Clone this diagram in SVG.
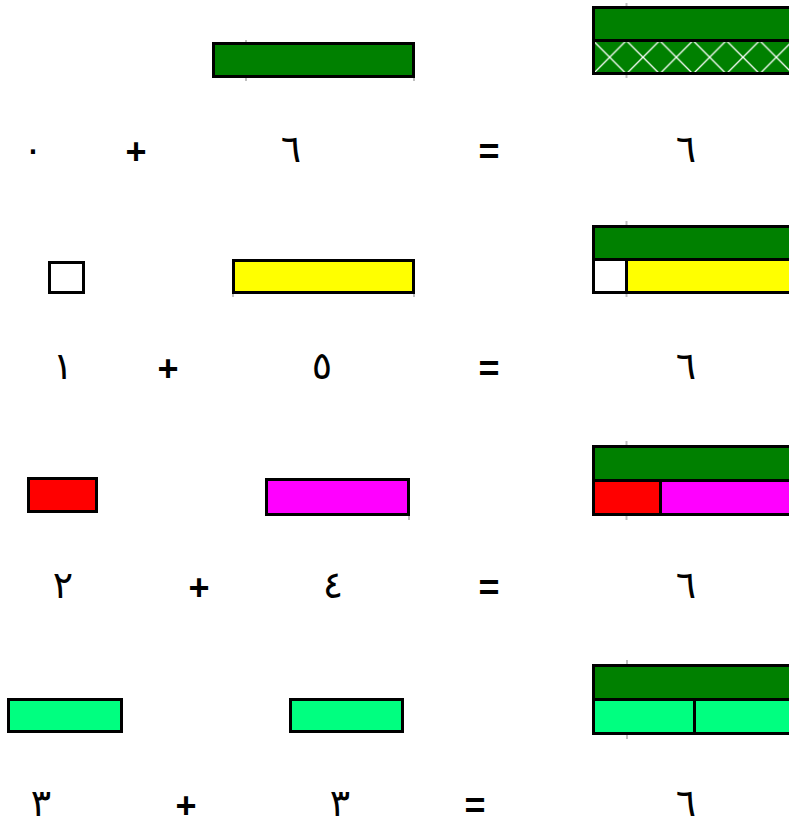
<svg xmlns="http://www.w3.org/2000/svg" width="789" height="825" viewBox="0 0 789 825">
<style>
.b{stroke:#000;stroke-width:3}
.g{fill:#008000}.y{fill:#FFFF00}.r{fill:#FF0000}.m{fill:#FF00FF}.s{fill:#00FF80}.w{fill:#FFFFFF}
.t{stroke:#C0C0C0;stroke-width:2}
.d{font-family:"Liberation Serif","DejaVu Serif","DejaVu Sans",serif;font-size:38px;text-anchor:middle;fill:#000}
.o{font-family:"Liberation Sans",Arial,sans-serif;font-weight:bold;font-size:36px;text-anchor:middle;fill:#000}
</style>
<defs>
<pattern id="hatch" patternUnits="userSpaceOnUse" x="593" y="40.5" width="33.33" height="33.5">
<rect width="33.33" height="33.5" fill="#008000"/>
<path d="M0,0 L33.33,33.5 M33.33,0 L0,33.5" stroke="#FFFFFF" stroke-width="1.3" fill="none"/>
</pattern>
</defs>
<g id="ticks">
<line class="t" x1="246" y1="40" x2="246" y2="43"/><line class="t" x1="246" y1="77" x2="246" y2="81"/><line class="t" x1="414" y1="77" x2="414" y2="81"/>
<line class="t" x1="626.5" y1="3" x2="626.5" y2="7"/><line class="t" x1="626.5" y1="74" x2="626.5" y2="78"/>
<line class="t" x1="233" y1="293" x2="233" y2="297"/><line class="t" x1="414" y1="293" x2="414" y2="297"/>
<line class="t" x1="626.5" y1="221" x2="626.5" y2="226"/><line class="t" x1="626.5" y1="293" x2="626.5" y2="297"/>
<line class="t" x1="409" y1="516" x2="409" y2="520"/>
<line class="t" x1="626.5" y1="441" x2="626.5" y2="446"/><line class="t" x1="626.5" y1="516" x2="626.5" y2="520"/>
<line class="t" x1="627" y1="660" x2="627" y2="665"/><line class="t" x1="627" y1="735" x2="627" y2="739"/>
</g>
<g id="row1">
<rect id="bar6a" class="b g" x="213.5" y="43.5" width="200" height="33"/>
<g id="sum1">
<rect class="b g" x="593.5" y="7.5" width="220" height="33"/>
<rect class="b" fill="url(#hatch)" x="593.5" y="40.5" width="220" height="33"/>
</g>
<text class="d" x="33" y="162">٠</text>
<text class="o" x="136" y="164">+</text>
<text class="d" x="291" y="162">٦</text>
<text class="o" x="489" y="164">=</text>
<text class="d" x="686" y="162">٦</text>
</g>
<g id="row2">
<rect class="b w" x="49.5" y="262.5" width="34" height="30"/>
<rect class="b y" x="233.5" y="260.5" width="180" height="32"/>
<g id="sum2">
<rect class="b g" x="593.5" y="226.5" width="220" height="33"/>
<rect class="b w" x="593.5" y="259.5" width="33" height="33"/>
<rect class="b y" x="626.5" y="259.5" width="190" height="33"/>
</g>
<text class="d" x="63" y="379">١</text>
<text class="o" x="168" y="381">+</text>
<text class="d" x="322" y="379">٥</text>
<text class="o" x="489" y="381">=</text>
<text class="d" x="686" y="379">٦</text>
</g>
<g id="row3">
<rect class="b r" x="28.5" y="478.5" width="68" height="33"/>
<rect class="b m" x="266.5" y="479.5" width="142" height="35"/>
<g id="sum3">
<rect class="b g" x="593.5" y="446.5" width="220" height="34"/>
<rect class="b r" x="593.5" y="480.5" width="67" height="34"/>
<rect class="b m" x="660.5" y="480.5" width="160" height="34"/>
</g>
<text class="d" x="63" y="598">٢</text>
<text class="o" x="199" y="600">+</text>
<text class="d" x="333" y="598">٤</text>
<text class="o" x="489" y="600">=</text>
<text class="d" x="686" y="598">٦</text>
</g>
<g id="row4">
<rect class="b s" x="8.5" y="699.5" width="113" height="32"/>
<rect class="b s" x="290.5" y="699.5" width="112" height="32"/>
<g id="sum4">
<rect class="b g" x="593.5" y="665.5" width="220" height="34"/>
<rect class="b s" x="593.5" y="699.5" width="101" height="34"/>
<rect class="b s" x="694.5" y="699.5" width="120" height="34"/>
</g>
<text class="d" x="41" y="816">٣</text>
<text class="o" x="186" y="818">+</text>
<text class="d" x="340" y="816">٣</text>
<text class="o" x="475" y="818">=</text>
<text class="d" x="686" y="816">٦</text>
</g>
</svg>
